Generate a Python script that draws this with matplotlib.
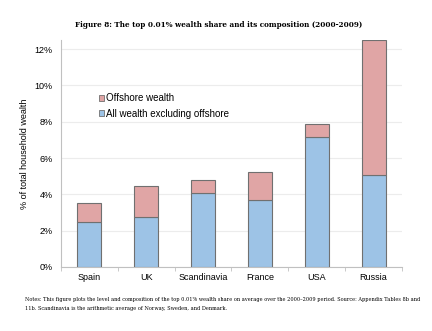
import matplotlib
matplotlib.use("Agg")
import matplotlib.pyplot as plt
import numpy as np
from matplotlib.patches import Patch

countries = ["Spain", "UK", "Scandinavia", "France", "USA", "Russia"]
excl_offshore = [2.48, 2.75, 4.07, 3.68, 7.15, 5.05]
offshore = [1.04, 1.70, 0.70, 1.56, 0.72, 7.45]
yticks = [0, 2, 4, 6, 8, 10, 12]

blue = "#9DC3E6"
pink = "#E0A5A5"
edge = "#707070"

fig = plt.figure(figsize=(4.32, 3.31), dpi=100)
ax = fig.add_axes([61/432, 1-267/331, (402-61)/432, (267-40)/331])

x = np.arange(len(countries))
ax.bar(x, excl_offshore, width=0.42, color=blue, edgecolor=edge, linewidth=0.8, zorder=3)
ax.bar(x, offshore, bottom=excl_offshore, width=0.42, color=pink, edgecolor=edge, linewidth=0.8, zorder=3)

ax.set_xlim(-0.5, len(countries) - 0.5)
ax.set_ylim(0, 12.5)
ax.set_yticks(yticks)
ax.set_yticklabels([f"{v}%" for v in yticks], fontsize=6.5, family="Liberation Sans")
ax.set_xticks(x)
ax.set_xticklabels(countries, fontsize=6.5, family="Liberation Sans")
ax.set_xticks(np.arange(-0.5, len(countries)), minor=True)
ax.tick_params(axis="x", which="major", length=0, pad=4)
ax.tick_params(axis="x", which="minor", length=3, color="#c0c0c0", direction="out")
ax.tick_params(axis="y", length=0, pad=6)
ax.grid(axis="y", color="#ececec", linewidth=0.8, zorder=0)
for s in ["top", "right"]:
    ax.spines[s].set_visible(False)
ax.spines["left"].set_color("#c0c0c0")
ax.spines["bottom"].set_color("#c0c0c0")
ax.set_ylabel("% of total household wealth", fontsize=6.5, family="Liberation Sans", labelpad=4)

handles = [Patch(facecolor=pink, edgecolor=edge, linewidth=0.6),
           Patch(facecolor=blue, edgecolor=edge, linewidth=0.6)]
ax.legend(handles, ["Offshore wealth", "All wealth excluding offshore"],
          loc="upper left", bbox_to_anchor=(0.085, 0.805), frameon=False,
          prop={"family": "Liberation Sans", "size": 7},
          handlelength=0.55, handleheight=0.55, handletextpad=0.15, labelspacing=0.6)

fig.text(75/432, 1-25/331, "Figure 8: The top 0.01% wealth share and its composition (2000-2009)",
         ha="left", va="center", fontsize=5.2, fontweight="bold", family="DejaVu Serif")
fig.text(25/432, 1-300/331,
         "Notes: This figure plots the level and composition of the top 0.01% wealth share on average over the 2000\u20132009 period. Source: Appendix Tables 8b and",
         ha="left", va="center", fontsize=3.6, family="DejaVu Serif")
fig.text(25/432, 1-308.5/331,
         "11b. Scandinavia is the arithmetic average of Norway, Sweden, and Denmark.",
         ha="left", va="center", fontsize=3.6, family="DejaVu Serif")

fig.savefig("out.png", dpi=100)
